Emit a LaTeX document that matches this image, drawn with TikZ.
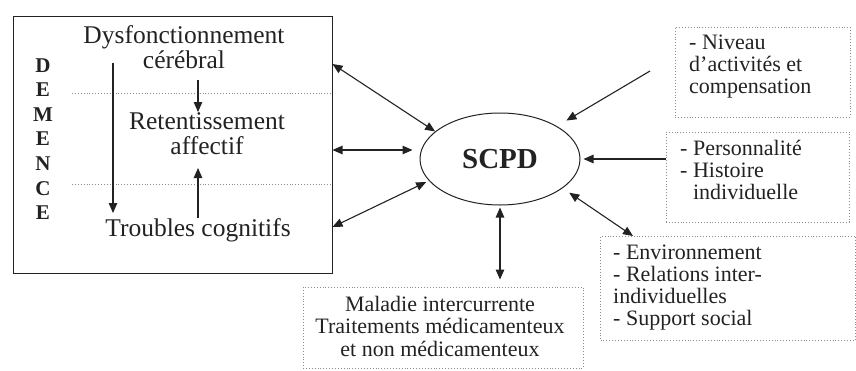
\documentclass[tikz,border=0pt]{standalone}
\usepackage{fontspec}
\setmainfont{Liberation Serif}
\usetikzlibrary{arrows.meta,shapes.geometric}
\definecolor{ink}{HTML}{222222}
\definecolor{dotc}{HTML}{8C8C8C}
\begin{document}
\begin{tikzpicture}[x=1pt,y=-1pt,
  tip/.tip={Triangle[length=10pt,width=8.5pt]},
  arr/.style={draw=ink, line width=1.1pt, -tip},
  darr/.style={draw=ink, line width=1.1pt, tip-tip},
  dotbox/.style={draw=dotc, dotted, line width=0.9pt, inner sep=0pt},
  dotline/.style={draw=dotc, dotted, line width=0.9pt},
  bigtxt/.style={text=ink, inner sep=0pt, align=center, font=\fontsize{25.5}{25}\selectfont},
  smalltxt/.style={text=ink, inner sep=0pt, align=left, font=\fontsize{22}{21.8}\selectfont},
]
\useasboundingbox (0,0) rectangle (856,370);

% main box
\node[draw=ink, line width=1pt, minimum width=319pt, minimum height=257pt, inner sep=0pt] (dem) at (172.5,144.5) {};
\coordinate (l1) at (72,93);
\coordinate (l2) at (72,184);
\draw[dotline] (l1) -- (l1 -| dem.east);
\draw[dotline] (l2) -- (l2 -| dem.east);

\node[text=ink, inner sep=0pt, align=center, font=\fontsize{21}{24.6}\selectfont\bfseries] (letters) at (43,139) {D\\E\\M\\E\\N\\C\\E};

\node[bigtxt] (dys) at (184,47) {Dysfonctionnement\\cérébral};
\node[bigtxt] (ret) at (207,134) {Retentissement\\affectif};
\node[bigtxt] (trb) at (198,230) {Troubles cognitifs};

\coordinate (a1) at (113,63);
\coordinate (a2) at (113,213);
\draw[arr] (a1) -- (a2);
\coordinate (b1) at (198,80);
\coordinate (b2) at (198,112);
\draw[arr] (b1) -- (b2);
\coordinate (c1) at (198,218);
\coordinate (c2) at (198,168);
\draw[arr] (c1) -- (c2);

% ellipse
\node[ellipse, draw=ink, line width=1pt, minimum width=160pt, minimum height=92pt, inner sep=0pt,
      text=ink, font=\fontsize{29}{30}\selectfont\bfseries] (scpd) at (500,159) {SCPD};

% left connectors
\coordinate (d1) at (332.5,64);
\coordinate (d2) at (332.5,150);
\coordinate (d3) at (332.5,227);
\draw[darr] (d1) -- (scpd.157);
\draw[darr, shorten >=7pt] (d2) -- (d2 -| scpd.west);
\draw[darr, shorten >=3pt] (d3) -- (scpd.197);

% bottom box
\node[dotbox, minimum width=280pt, minimum height=81pt] (bot) at (443,327.5) {};
\node[text=ink, inner sep=0pt, align=center, font=\fontsize{22}{22.5}\selectfont] (bottxt) at (440,326)
  {Maladie intercurrente\\Traitements médicamenteux\\et non médicamenteux};
\draw[darr, shorten <=2pt, shorten >=7pt] (scpd.south) -- (scpd.south |- bot.north);

% right box 1
\node[dotbox, minimum width=175pt, minimum height=90pt] (box1) at (762.5,72) {};
\node[smalltxt, anchor=north west] (t1) at (689,35) {- Niveau\\d’activités et\\compensation};
\coordinate (n1) at (650,71);
\draw[arr, shorten >=11pt] (n1) -- (scpd.30);

% right box 2
\node[dotbox, minimum width=183pt, minimum height=90pt] (box2) at (757.5,177) {};
\node[smalltxt, anchor=north west] (t2) at (680,140) {- Personnalité\\- Histoire\\\phantom{- }individuelle};
\draw[arr, shorten >=3pt] (box2.west |- scpd.east) -- (scpd.east);

% right box 3
\node[dotbox, minimum width=255pt, minimum height=104pt] (box3) at (728,288) {};
\node[smalltxt, anchor=north west] (t3) at (613,245) {- Environnement\\- Relations inter-\\individuelles\\- Support social};
\coordinate (e3) at (633,236);
\draw[darr, shorten <=8pt] (scpd.-25) -- (e3);
\end{tikzpicture}
\end{document}
